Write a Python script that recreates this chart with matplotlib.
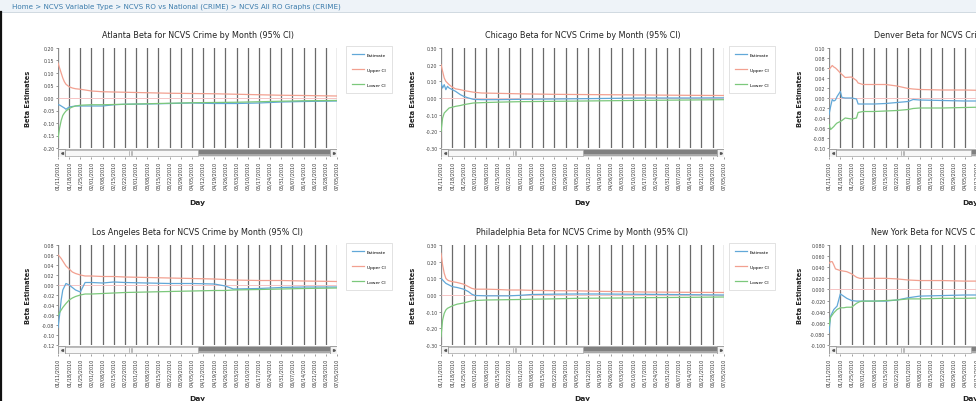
import matplotlib.pyplot as plt
from matplotlib.patches import Rectangle
from matplotlib.lines import Line2D
import numpy as np

# weekly tick labels shared by every chart
DATE_LABELS = ["01/11/2010", "01/18/2010", "01/25/2010", "02/01/2010", "02/08/2010",
               "02/15/2010", "02/22/2010", "03/01/2010", "03/08/2010", "03/15/2010",
               "03/22/2010", "03/29/2010", "04/05/2010", "04/12/2010", "04/19/2010",
               "04/26/2010", "05/03/2010", "05/10/2010", "05/17/2010", "05/24/2010",
               "05/31/2010", "06/07/2010", "06/14/2010", "06/21/2010", "06/28/2010",
               "07/05/2010"]

# Atlanta
atlanta_days = [0, 1, 2, 3, 4, 5, 7, 9, 11, 14, 17, 21, 28, 35, 42, 56, 70, 84, 98, 112, 126, 140, 154, 175]
atlanta_est = [-0.027, -0.028, -0.032, -0.036, -0.040, -0.045, -0.036, -0.034, -0.032, -0.032, -0.032, -0.032,
               -0.032, -0.027, -0.025, -0.024, -0.022, -0.020, -0.022, -0.022, -0.020, -0.016, -0.014, -0.012]
atlanta_upper = [0.14, 0.12, 0.10, 0.08, 0.065, 0.055, 0.045, 0.040, 0.037, 0.035, 0.032, 0.028,
                 0.025, 0.024, 0.023, 0.021, 0.019, 0.018, 0.017, 0.015, 0.013, 0.011, 0.010, 0.008]
atlanta_lower = [-0.16, -0.12, -0.09, -0.07, -0.06, -0.052, -0.042, -0.036, -0.032, -0.029, -0.028, -0.027,
                 -0.027, -0.026, -0.025, -0.023, -0.021, -0.019, -0.018, -0.017, -0.015, -0.013, -0.011, -0.010]

# Chicago
chicago_days = [0, 1, 2, 3, 4, 5, 7, 9, 12, 14, 17, 20, 25, 35, 49, 70, 98, 126, 154, 175]
chicago_est = [0.09, 0.06, 0.08, 0.05, 0.07, 0.06, 0.05, 0.04, 0.02, 0.01, 0.00, -0.008, -0.01, -0.01,
               -0.008, -0.006, -0.003, 0.000, 0.000, 0.001]
chicago_upper = [0.20, 0.16, 0.12, 0.10, 0.09, 0.08, 0.065, 0.055, 0.05, 0.045, 0.04, 0.035, 0.03, 0.028,
                 0.025, 0.022, 0.02, 0.018, 0.016, 0.015]
chicago_lower = [-0.20, -0.12, -0.09, -0.08, -0.07, -0.06, -0.055, -0.05, -0.045, -0.04, -0.035, -0.03, -0.028,
                 -0.025, -0.022, -0.02, -0.017, -0.014, -0.012, -0.01]

# Denver
denver_days = [0, 1, 2, 3, 4, 5, 7, 8, 10, 14, 17, 18, 21, 28, 35, 42, 49, 52, 56, 70, 84, 98, 112, 126, 140, 154, 175]
denver_est = [-0.033, -0.017, -0.003, -0.006, -0.004, 0.003, 0.013, 0.001, 0.0, 0.0, -0.002, -0.012, -0.012,
              -0.012, -0.011, -0.009, -0.007, -0.003, -0.004, -0.005, -0.006, -0.006, -0.006, -0.005, -0.005,
              -0.005, -0.004]
denver_upper = [0.057, 0.061, 0.065, 0.062, 0.06, 0.057, 0.05, 0.047, 0.041, 0.042, 0.035, 0.03, 0.027, 0.027,
                0.027, 0.024, 0.019, 0.018, 0.017, 0.016, 0.016, 0.015, 0.015, 0.014, 0.014, 0.013, 0.013]
denver_lower = [-0.053, -0.063, -0.06, -0.057, -0.053, -0.05, -0.047, -0.045, -0.04, -0.042, -0.04, -0.029, -0.027,
                -0.027, -0.026, -0.025, -0.023, -0.021, -0.02, -0.02, -0.019, -0.018, -0.017, -0.017, -0.016,
                -0.016, -0.015]

# Los Angeles
la_days = [0, 1, 2, 3, 5, 7, 9, 11, 14, 17, 21, 28, 35, 42, 56, 70, 84, 98, 105, 110, 126, 140, 154, 175]
la_est = [-0.085, -0.06, -0.03, -0.01, 0.003, 0.0, -0.005, -0.01, -0.014, 0.005, 0.005, 0.004, 0.006, 0.005,
          0.004, 0.003, 0.003, 0.002, -0.002, -0.008, -0.007, -0.005, -0.004, -0.004]
la_upper = [0.06, 0.057, 0.053, 0.048, 0.038, 0.032, 0.026, 0.023, 0.02, 0.018, 0.018, 0.017, 0.017, 0.016,
            0.015, 0.014, 0.013, 0.012, 0.011, 0.01, 0.009, 0.009, 0.008, 0.007]
la_lower = [-0.06, -0.055, -0.05, -0.045, -0.037, -0.03, -0.026, -0.023, -0.02, -0.018, -0.018, -0.017, -0.016,
            -0.015, -0.014, -0.013, -0.012, -0.011, -0.011, -0.01, -0.009, -0.008, -0.007, -0.006]

# Philadelphia
philly_days = [0, 1, 2, 3, 4, 5, 7, 10, 14, 17, 19, 21, 28, 35, 42, 49, 56, 70, 84, 98, 112, 126, 140, 154, 175]
philly_est = [0.10, 0.09, 0.08, 0.07, 0.065, 0.06, 0.05, 0.045, 0.035, 0.02, 0.005, -0.003, -0.005, -0.005,
              -0.005, -0.002, 0.003, 0.005, 0.006, 0.006, 0.005, 0.004, 0.003, 0.002, 0.0]
philly_upper = [0.25, 0.18, 0.13, 0.10, 0.09, 0.085, 0.08, 0.075, 0.065, 0.05, 0.04, 0.035, 0.035, 0.033,
                0.03, 0.03, 0.028, 0.026, 0.025, 0.022, 0.02, 0.018, 0.017, 0.016, 0.015]
philly_lower = [-0.25, -0.15, -0.11, -0.09, -0.08, -0.075, -0.065, -0.055, -0.048, -0.04, -0.036, -0.033, -0.03,
                -0.029, -0.028, -0.027, -0.025, -0.023, -0.02, -0.019, -0.018, -0.016, -0.015, -0.014, -0.012]

# New York
ny_days = [0, 1, 2, 3, 4, 5, 7, 9, 11, 14, 17, 19, 21, 28, 35, 42, 49, 56, 70, 84, 98, 112, 126, 140, 154, 175]
ny_est = [-0.077, -0.048, -0.042, -0.036, -0.033, -0.03, -0.008, -0.012, -0.016, -0.02, -0.021, -0.021, -0.021,
          -0.021, -0.021, -0.019, -0.015, -0.012, -0.011, -0.01, -0.01, -0.009, -0.009, -0.009, -0.009, -0.009]
ny_upper = [0.047, 0.05, 0.05, 0.044, 0.037, 0.036, 0.034, 0.033, 0.032, 0.028, 0.022, 0.02, 0.02, 0.02, 0.02,
            0.019, 0.017, 0.016, 0.016, 0.015, 0.015, 0.014, 0.014, 0.013, 0.013, 0.012]
ny_lower = [-0.065, -0.05, -0.046, -0.042, -0.039, -0.036, -0.033, -0.033, -0.032, -0.032, -0.025, -0.022, -0.021,
            -0.021, -0.02, -0.019, -0.017, -0.017, -0.016, -0.016, -0.015, -0.015, -0.014, -0.014, -0.013, -0.013]

SERIES_NAMES = ["Estimate", "Upper CI", "Lower CI"]
COLORS = ["#62a8d8", "#f2a090", "#7cc87c"]

W, H = 976, 402
fig = plt.figure(figsize=(W / 100, H / 100), dpi=100)
fig.patch.set_facecolor("white")


def px_axes(left, top, right, bottom):
    return fig.add_axes([left / W, 1 - bottom / H, (right - left) / W, (bottom - top) / H])


# breadcrumb bar and page border
fig.patches.append(Rectangle((0, 1 - 13 / H), 1, 13 / H, transform=fig.transFigure,
                             fc="#eef3f8", ec="none", zorder=0))
fig.lines.append(Line2D([0, 1], [1 - 13 / H, 1 - 13 / H], transform=fig.transFigure, color="#c9d3dc", lw=0.6))
fig.lines.append(Line2D([1 / W, 1 / W], [0, 1 - 13 / H], transform=fig.transFigure, color="#111111", lw=1.6))
fig.text(12 / W, 1 - 6.5 / H, "Home > NCVS Variable Type > NCVS RO vs National (CRIME) > NCVS All RO Graphs (CRIME)",
         fontsize=5.1, color="#3a7bab", va="center", ha="left")

COLS = [(58, 337), (441, 724), (829, 1112)]
YLAB_X = [28, 413, 800]
LEG_X = [344, 727, 1115]
ROWS = [dict(title=36, top=49, bottom=149, day=203),
        dict(title=233, top=246, bottom=346, day=399)]

charts = [
    ("Atlanta", atlanta_days, atlanta_est, atlanta_upper, atlanta_lower, np.linspace(-0.20, 0.20, 9), "{:.2f}", 0, 0),
    ("Chicago", chicago_days, chicago_est, chicago_upper, chicago_lower, np.linspace(-0.30, 0.30, 7), "{:.2f}", 0, 1),
    ("Denver", denver_days, denver_est, denver_upper, denver_lower, np.linspace(-0.10, 0.10, 11), "{:.2f}", 0, 2),
    ("Los Angeles", la_days, la_est, la_upper, la_lower, np.linspace(-0.12, 0.08, 11), "{:.2f}", 1, 0),
    ("Philadelphia", philly_days, philly_est, philly_upper, philly_lower, np.linspace(-0.30, 0.30, 7), "{:.2f}", 1, 1),
    ("New York", ny_days, ny_est, ny_upper, ny_lower, np.linspace(-0.10, 0.08, 10), "{:.3f}", 1, 2),
]

tick_days = list(range(0, 7 * len(DATE_LABELS), 7))
x_max = tick_days[-1]

for city, days, est, upper, lower, yticks, fmt, r, c in charts:
    row = ROWS[r]
    left, right = COLS[c]
    ax = px_axes(left, row["top"], right, row["bottom"])
    ax.axhline(0, color="#f6c4c4", lw=0.7, zorder=1)
    lines = []
    for vals, col in zip([est, upper, lower], COLORS):
        ln, = ax.plot(days, vals, color=col, lw=0.9, zorder=3)
        lines.append(ln)
    ax.set_xlim(0, x_max)
    ax.set_ylim(yticks[0], yticks[-1])
    ax.set_yticks(yticks)
    ax.set_yticklabels([fmt.format(v) for v in yticks])
    ax.tick_params(axis="y", labelsize=3.4, length=1.5, width=0.4, pad=1, colors="#444444")
    ax.set_xticks(tick_days)
    ax.tick_params(axis="x", length=0, labelbottom=False)
    ax.grid(axis="x", color="#6a6a6a", lw=0.9)
    ax.set_axisbelow(True)
    for s in ["top", "right", "bottom"]:
        ax.spines[s].set_visible(False)
    ax.spines["left"].set_color("#9a9a9a")
    ax.spines["left"].set_linewidth(0.5)

    cx = (left + right) / 2
    fig.text(cx / W, 1 - row["title"] / H, f"{city} Beta for NCVS Crime by Month (95% CI)",
             fontsize=5.8, ha="center", va="center", color="#222222")
    fig.text(YLAB_X[c] / W, 1 - (row["top"] + row["bottom"]) / 2 / H, "Beta Estimates",
             fontsize=4.8, weight="bold", rotation=90, ha="center", va="center", color="#222222")
    fig.text(cx / W, 1 - row["day"] / H, "Day", fontsize=5.4, weight="bold",
             ha="center", va="center", color="#222222")

    # legend box (the third column's legend lies past the page edge)
    if LEG_X[c] < W:
        ax.legend(lines, SERIES_NAMES, loc="upper left",
                  bbox_to_anchor=(LEG_X[c] / W, 1 - (row["top"] - 4) / H), bbox_transform=fig.transFigure,
                  fontsize=3.2, frameon=True, fancybox=False, edgecolor="#d6d6d6", framealpha=1,
                  handlelength=2.6, handletextpad=0.6, borderpad=1.4, labelspacing=2.5)
        ax.get_legend().get_frame().set_linewidth(0.5)

    # scrollbar strip with date labels underneath
    sb = px_axes(left, row["bottom"] + 1, right, row["bottom"] + 9)
    sb.set_xlim(0, x_max)
    sb.set_ylim(0, 1)
    for s in sb.spines.values():
        s.set_visible(False)
    sb.set_yticks([])
    sb.set_xticks(tick_days)
    sb.set_xticklabels(DATE_LABELS, rotation=90, fontsize=3.5, color="#333333")
    sb.tick_params(axis="x", length=1.5, width=0.4, pad=1.5, colors="#555555")
    for lbl in sb.get_xticklabels():
        lbl.set_color("#333333")
    bw = 7 / (right - left)
    tr = sb.transAxes
    sb.add_patch(Rectangle((0, 0), 1, 1, transform=tr, fc="#e4e4e4", ec="#9c9c9c", lw=0.5))
    sb.add_patch(Rectangle((0.5, 0.08), 0.5 - bw, 0.84, transform=tr, fc="#808080", ec="none"))
    sb.add_patch(Rectangle((0.5, 0.08), 0.5 - bw, 0.3, transform=tr, fc="#a9a9a9", ec="none"))
    sb.add_patch(Rectangle((bw, 0.1), 0.5 - bw, 0.8, transform=tr, fc="#f7f7f7", ec="#a8a8a8", lw=0.5))
    sb.add_patch(Rectangle((0, 0), bw, 1, transform=tr, fc="#f2f2f2", ec="#8c8c8c", lw=0.5))
    sb.add_patch(Rectangle((1 - bw, 0), bw, 1, transform=tr, fc="#f2f2f2", ec="#8c8c8c", lw=0.5))
    sb.plot([bw / 2], [0.5], marker="<", ms=1.4, color="#555555", transform=tr)
    sb.plot([1 - bw / 2], [0.5], marker=">", ms=1.4, color="#555555", transform=tr)
    for gx in [-0.006, 0.0, 0.006]:
        sb.plot([0.26 + gx, 0.26 + gx], [0.3, 0.7], color="#888888", lw=0.4, transform=tr)

fig.savefig("out.png", dpi=100)
